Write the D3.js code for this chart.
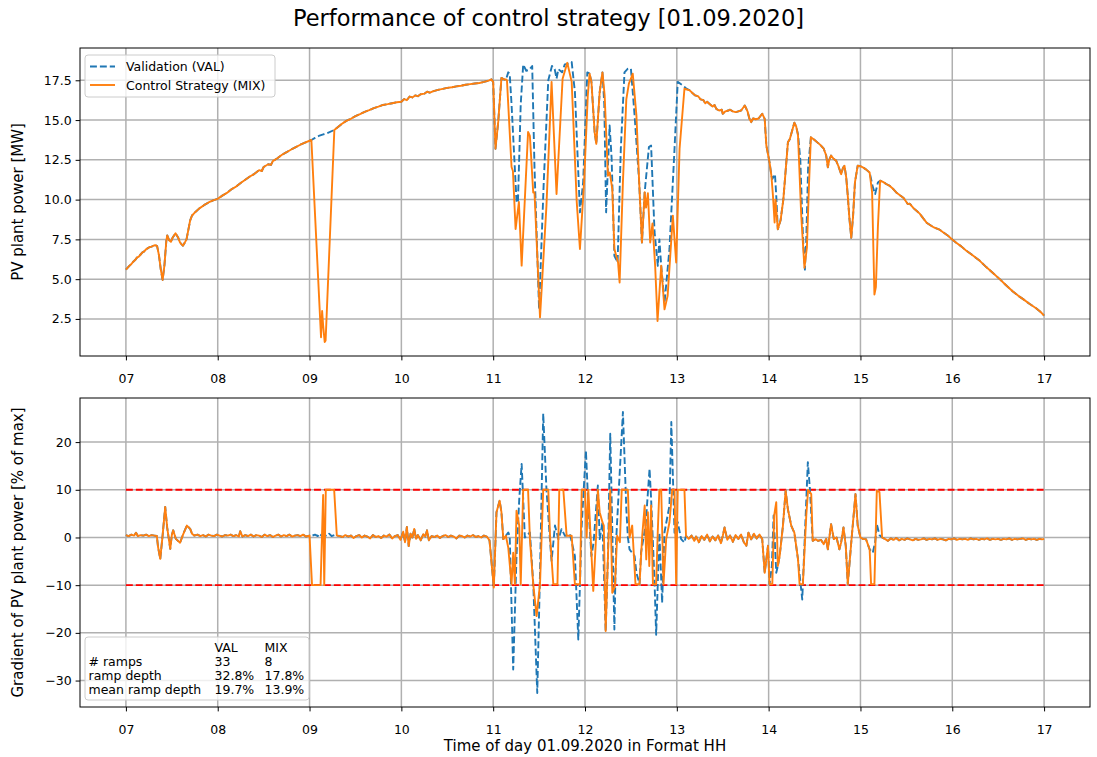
<!DOCTYPE html>
<html>
<head>
<meta charset="utf-8">
<script src="https://cdn.jsdelivr.net/npm/d3@7"></script>
<style>
  body { margin: 0; background: #fff; }
  svg { display: block; font-family: "DejaVu Sans", sans-serif; }
</style>
</head>
<body>
<svg id="chart" width="1097" height="757"></svg>
<script>
// ---- data (hour of day, value) ----
const hourTicks = [7, 8, 9, 10, 11, 12, 13, 14, 15, 16, 17];
const powerTicks = [2.5, 5, 7.5, 10, 12.5, 15, 17.5];
const gradientTicks = [-30, -20, -10, 0, 10, 20];
const rampLimits = [-10, 10];
const seriesNames = ["Validation (VAL)", "Control Strategy (MIX)"];
const tableHeader = ["", "VAL", "MIX"];
const tableRows = [
  ["# ramps", "33", "8"],
  ["ramp depth", "32.8%", "17.8%"],
  ["mean ramp depth", "19.7%", "13.9%"],
];

// PV plant power [MW]: parts shared by both series and parts where they differ
const powerCommon1 = [[7.00,5.60],[7.02,5.72],[7.04,5.85],[7.06,5.95],[7.08,6.10],[7.10,6.20],[7.12,6.35],[7.14,6.42],[7.16,6.55],[7.18,6.68],[7.20,6.75],[7.22,6.88],[7.24,6.95],[7.26,7.02],[7.28,7.05],[7.30,7.10],[7.32,7.14],[7.34,7.08],[7.36,6.50],[7.38,5.60],[7.40,4.95],[7.42,5.90],[7.44,7.40],[7.45,7.75],[7.47,7.45],[7.49,7.35],[7.51,7.62],[7.54,7.88],[7.57,7.60],[7.59,7.30],[7.62,7.10],[7.64,7.28],[7.66,7.50],[7.68,8.10],[7.70,8.70],[7.72,9.00],[7.76,9.24],[7.80,9.45],[7.85,9.65],[7.90,9.82],[7.95,9.95],[8.00,10.05],[8.05,10.25],[8.10,10.42],[8.15,10.65],[8.20,10.82],[8.25,11.05],[8.30,11.25],[8.35,11.45],[8.40,11.62],[8.45,11.85],[8.48,11.80],[8.50,12.05],[8.55,12.22],[8.58,12.18],[8.60,12.42],[8.65,12.60],[8.70,12.82],[8.75,12.98],[8.80,13.15],[8.85,13.30],[8.90,13.45],[8.95,13.58],[9.00,13.70],[9.02,13.75]];
const powerVal2 = [[9.02,13.75],[9.06,13.88],[9.10,14.00],[9.15,14.10],[9.20,14.20],[9.27,14.38]];
const powerMix2 = [[9.02,13.75],[9.125,1.35],[9.137,3.00],[9.148,2.10],[9.165,1.05],[9.175,1.15],[9.27,14.38]];
const powerCommon3 = [[9.27,14.38],[9.30,14.52],[9.35,14.75],[9.40,14.95],[9.45,15.08],[9.50,15.25],[9.55,15.38],[9.60,15.52],[9.65,15.62],[9.70,15.75],[9.75,15.84],[9.80,15.95],[9.85,16.00],[9.90,16.06],[9.95,16.12],[10.00,16.15],[10.03,16.32],[10.06,16.25],[10.09,16.48],[10.12,16.42],[10.15,16.55],[10.18,16.50],[10.21,16.62],[10.25,16.66],[10.28,16.78],[10.31,16.72],[10.35,16.82],[10.40,16.90],[10.45,16.96],[10.50,17.02],[10.55,17.06],[10.60,17.12],[10.65,17.16],[10.70,17.22],[10.75,17.26],[10.80,17.30],[10.85,17.33],[10.90,17.40],[10.95,17.48],[10.98,17.56],[11.00,17.40],[11.025,13.20],[11.055,14.90],[11.09,17.65],[11.12,17.55],[11.14,17.56]];
const powerVal4 = [[11.14,17.56],[11.164,18.00],[11.18,17.90],[11.20,16.00],[11.255,9.80],[11.27,9.90],[11.30,16.00],[11.327,18.49],[11.36,18.10],[11.39,18.15],[11.425,18.40],[11.45,12.00],[11.50,3.10],[11.55,11.00],[11.60,17.50],[11.64,18.40],[11.67,18.20],[11.69,17.60],[11.71,18.20],[11.75,18.00],[11.78,18.50],[11.82,18.55],[11.855,18.65],[11.88,17.30],[11.89,16.80],[11.945,9.20],[11.98,11.10],[12.025,18.00],[12.05,17.92],[12.07,17.40],[12.105,14.24],[12.123,13.50],[12.16,16.76],[12.19,18.00],[12.21,16.00],[12.23,9.20],[12.268,14.66],[12.29,12.60],[12.32,6.47],[12.355,6.05],[12.39,13.20],[12.43,18.00],[12.467,18.23],[12.50,18.23],[12.54,15.30],[12.59,11.10],[12.62,7.30],[12.65,10.46],[12.696,13.30],[12.72,13.40],[12.757,8.00],[12.793,5.84],[12.81,7.50],[12.83,5.84],[12.866,3.50],[12.92,6.90],[12.975,13.20],[13.01,17.40],[13.065,17.18],[13.10,17.00],[13.14,16.87]];
const powerMix4 = [[11.14,17.56],[11.15,17.50],[11.20,12.05],[11.215,11.80],[11.244,8.15],[11.28,9.85],[11.31,5.85],[11.38,14.25],[11.40,14.00],[11.436,10.45],[11.45,10.45],[11.51,2.60],[11.58,9.60],[11.636,17.40],[11.69,10.35],[11.756,17.60],[11.807,18.60],[11.855,17.40],[11.91,9.85],[11.945,6.90],[11.99,11.10],[12.03,16.50],[12.05,17.92],[12.07,17.40],[12.105,14.24],[12.123,13.50],[12.16,16.76],[12.19,18.00],[12.214,16.55],[12.25,11.50],[12.27,11.70],[12.297,10.67],[12.32,6.89],[12.36,6.05],[12.377,4.79],[12.413,11.09],[12.45,16.30],[12.478,17.29],[12.50,17.60],[12.52,17.92],[12.56,15.30],[12.59,11.10],[12.62,7.30],[12.65,10.46],[12.665,9.50],[12.685,10.40],[12.71,7.30],[12.735,8.50],[12.764,5.84],[12.79,2.37],[12.83,5.84],[12.866,3.10],[12.90,3.95],[12.957,8.99],[12.993,6.05],[13.03,13.20],[13.083,16.97],[13.14,16.87]];
const powerCommon5 = [[13.14,16.87],[13.17,16.70],[13.20,16.55],[13.23,16.50],[13.26,16.30],[13.29,16.25],[13.31,16.05],[13.33,16.15],[13.36,16.00],[13.39,15.85],[13.41,15.95],[13.43,15.70],[13.46,15.60],[13.49,15.65],[13.50,15.40],[13.53,15.55],[13.56,15.60],[13.58,15.65],[13.61,15.55],[13.64,15.50],[13.67,15.55],[13.70,15.60],[13.74,15.92],[13.77,15.55],[13.79,15.10],[13.81,14.87],[13.83,15.10],[13.86,15.05],[13.89,15.10],[13.93,15.40],[13.957,15.08],[13.975,13.40],[14.01,12.34],[14.03,11.50]];
const powerVal6 = [[14.03,11.50],[14.04,11.30],[14.069,11.60],[14.083,10.24],[14.10,8.14],[14.13,8.70],[14.16,10.00],[14.21,13.60],[14.23,13.80],[14.28,14.83],[14.30,14.60],[14.32,14.10],[14.345,12.50],[14.375,7.50],[14.395,5.60],[14.41,7.50],[14.43,12.00],[14.46,13.92]];
const powerMix6 = [[14.03,11.50],[14.047,10.24],[14.065,8.56],[14.075,10.00],[14.10,8.14],[14.13,8.70],[14.16,10.00],[14.21,13.60],[14.23,13.80],[14.28,14.83],[14.30,14.60],[14.32,14.03],[14.355,9.00],[14.39,5.72],[14.417,7.00],[14.44,11.00],[14.46,13.92]];
const powerCommon7 = [[14.46,13.92],[14.50,13.75],[14.54,13.55],[14.57,13.40],[14.60,13.20],[14.627,12.77],[14.645,12.03],[14.66,12.50],[14.68,12.77],[14.71,12.55],[14.735,12.45],[14.76,12.10],[14.79,11.60],[14.81,12.00],[14.826,12.13],[14.845,11.40],[14.862,10.24],[14.88,8.80],[14.90,7.60],[14.92,9.00],[14.94,11.08],[14.97,12.13],[15.00,12.10],[15.025,12.03],[15.06,11.90],[15.10,11.70]];
const powerVal8 = [[15.10,11.70],[15.134,10.80],[15.16,10.35],[15.19,11.08],[15.214,11.19]];
const powerMix8 = [[15.10,11.70],[15.127,10.45],[15.152,4.03],[15.168,4.50],[15.19,8.30],[15.214,11.19]];
const powerCommon9 = [[15.214,11.19],[15.25,11.10],[15.28,10.98],[15.32,10.86],[15.36,10.65],[15.39,10.45],[15.43,10.27],[15.47,10.10],[15.515,9.72],[15.536,9.75],[15.58,9.45],[15.62,9.25],[15.645,9.12],[15.68,8.85],[15.72,8.55],[15.754,8.42],[15.80,8.25],[15.862,8.11],[15.90,7.95],[15.95,7.75],[15.99,7.54],[16.04,7.30],[16.098,7.06],[16.15,6.80],[16.225,6.49],[16.30,6.15],[16.37,5.76],[16.44,5.40],[16.514,5.02],[16.58,4.65],[16.66,4.22],[16.72,3.95],[16.768,3.76],[16.84,3.45],[16.913,3.17],[16.96,2.95],[17.00,2.71]];

// Gradient of PV plant power [% of max]
const gradCommon1 = [[7.00,0.5],[7.03,0.3],[7.06,0.6],[7.09,0.4],[7.11,1.0],[7.13,0.3],[7.16,0.5],[7.19,0.4],[7.22,0.6],[7.25,0.3],[7.28,0.5],[7.31,0.4],[7.337,0.3],[7.35,-2.0],[7.374,-4.5],[7.40,0.5],[7.428,6.4],[7.45,2.0],[7.483,-2.4],[7.50,0.5],[7.515,1.5],[7.544,-0.3],[7.59,-1.1],[7.62,0.5],[7.664,2.5],[7.70,1.8],[7.72,0.8],[7.744,0.4],[7.78,0.6],[7.81,0.3],[7.84,0.5],[7.87,0.2],[7.90,0.6],[7.93,0.4],[7.96,0.3],[7.99,0.6],[8.02,0.4],[8.05,0.2],[8.08,0.5],[8.11,0.4],[8.14,0.6],[8.17,0.3],[8.20,0.5],[8.23,0.2],[8.245,1.3],[8.27,0.2],[8.30,0.5],[8.33,0.3],[8.36,0.6],[8.39,0.2],[8.42,0.5],[8.45,0.4],[8.48,0.1],[8.51,0.6],[8.54,0.3],[8.57,0.5],[8.60,0.1],[8.63,0.4],[8.66,0.6],[8.69,0.2],[8.72,0.5],[8.75,0.3],[8.78,0.6],[8.81,0.2],[8.84,0.4],[8.87,0.5],[8.90,0.3],[8.93,0.6],[8.96,0.2],[9.00,0.4]];
const gradVal2 = [[9.00,0.4],[9.03,0.4],[9.06,0.6],[9.09,0.3],[9.105,0.8],[9.13,0.4],[9.16,0.5],[9.19,0.3],[9.213,0.8],[9.24,0.3],[9.27,0.5],[9.297,0.4]];
const gradMix2 = [[9.00,0.4],[9.027,-10],[9.12,-10],[9.148,8.9],[9.16,-10],[9.177,10],[9.268,10],[9.297,0.4]];
const gradCommon3 = [[9.297,0.4],[9.33,0.3],[9.36,0.1],[9.39,0.5],[9.42,0.2],[9.45,0.4],[9.48,-0.1],[9.51,0.3],[9.54,0.5],[9.57,0.0],[9.60,0.4],[9.63,0.2],[9.66,-0.2],[9.69,0.5],[9.72,0.1],[9.75,0.3],[9.78,-0.1],[9.81,0.4],[9.84,0.2],[9.87,0.6],[9.90,-0.2],[9.93,0.3],[9.96,0.5],[9.99,-0.5],[10.02,1.2],[10.04,-1.0],[10.06,2.2],[10.08,-1.8],[10.10,0.8],[10.12,0.0],[10.14,1.8],[10.16,-0.3],[10.18,0.5],[10.21,-0.6],[10.24,0.7],[10.26,0.2],[10.28,1.5],[10.30,-0.6],[10.33,0.3],[10.36,0.1],[10.39,0.4],[10.42,-0.1],[10.45,0.3],[10.48,0.5],[10.51,0.1],[10.54,0.4],[10.57,0.2],[10.60,-0.2],[10.63,0.4],[10.66,0.3],[10.69,0.0],[10.72,0.4],[10.75,0.2],[10.78,0.5],[10.81,0.1],[10.84,0.3],[10.87,0.0],[10.90,0.4],[10.93,0.2],[10.96,-0.6],[11.007,-10.5],[11.036,5.3],[11.07,7.7],[11.09,5.3],[11.11,-0.35],[11.138,0.35]];
const gradVal4 = [[11.138,0.35],[11.164,1.05],[11.18,0.35],[11.218,-27.7],[11.254,-3.9],[11.284,8.1],[11.31,15.4],[11.345,0.0],[11.40,1.05],[11.436,-9.5],[11.48,-32.6],[11.51,-7.4],[11.545,26.0],[11.58,10.2],[11.62,-1.0],[11.636,-4.9],[11.673,2.5],[11.71,-0.35],[11.745,1.75],[11.782,0.35],[11.836,0.7],[11.89,-3.9],[11.927,-21.4],[11.964,2.5],[12.01,18.2],[12.036,6.7],[12.07,-3.9],[12.094,-1.0],[12.14,10.9],[12.16,-0.35],[12.19,3.2],[12.225,-19.6],[12.25,-3.9],[12.275,21.75],[12.32,-19.3],[12.34,-0.35],[12.413,26.3],[12.45,6.0],[12.467,0.0],[12.485,-2.5],[12.54,-3.9],[12.56,-7.4],[12.594,-9.8],[12.61,-3.2],[12.66,2.5],[12.703,14.4],[12.72,8.1],[12.757,-9.1],[12.775,-20.4],[12.81,1.0],[12.84,-13.7],[12.865,1.0],[12.92,6.7],[12.94,24.2],[12.975,1.0],[13.01,3.2],[13.047,-0.35],[13.083,-1.05],[13.10,0.35]];
const gradMix4 = [[11.138,0.35],[11.164,-2.1],[11.20,-9.8],[11.218,-3.2],[11.236,-9.8],[11.254,5.6],[11.284,2.5],[11.30,-9.8],[11.327,10],[11.38,10],[11.40,-0.35],[11.436,-9.8],[11.473,-16.5],[11.51,-9.8],[11.545,10],[11.60,10],[11.62,0.0],[11.655,-9.8],[11.70,-9.8],[11.72,10],[11.764,10],[11.80,0.35],[11.855,0.35],[11.89,-9.8],[11.945,-9.8],[11.964,10],[12.00,10],[12.018,0.0],[12.036,10],[12.09,-11.2],[12.123,1.0],[12.14,10],[12.16,5.3],[12.19,3.2],[12.205,2.5],[12.225,-19.6],[12.25,-3.9],[12.275,10],[12.297,-11.6],[12.326,-10.2],[12.35,0.35],[12.38,-1.0],[12.40,10],[12.467,10],[12.485,0.0],[12.514,2.5],[12.55,-9.8],[12.594,-9.8],[12.623,0.35],[12.65,6.7],[12.667,-4.6],[12.685,5.3],[12.70,-6.0],[12.72,6.7],[12.74,-9.8],[12.775,-9.8],[12.792,1.0],[12.81,10],[12.83,10],[12.855,-9.8],[12.884,-0.35],[12.92,3.2],[12.95,10],[12.975,10],[12.993,-9.8],[13.01,10],[13.083,10],[13.10,0.35]];
const gradCommon5 = [[13.10,0.35],[13.13,-0.3],[13.16,0.4],[13.19,-0.7],[13.21,0.2],[13.24,-1.0],[13.27,0.3],[13.30,-0.5],[13.33,0.6],[13.36,-0.8],[13.39,0.2],[13.42,-0.6],[13.45,0.4],[13.48,-1.2],[13.50,0.3],[13.52,2.1],[13.55,-0.5],[13.58,0.4],[13.61,-0.9],[13.64,0.5],[13.67,-0.3],[13.70,0.6],[13.73,-1.0],[13.757,-1.75],[13.78,1.0],[13.81,-0.4],[13.84,0.8],[13.87,-0.2],[13.90,0.6],[13.93,-0.3],[13.957,-7.4],[13.993,-1.75],[14.01,-9.8]];
const gradVal6 = [[14.01,-9.8],[14.035,-6.0],[14.054,4.6],[14.083,-7.4],[14.10,-6.0],[14.12,-3.9],[14.156,2.5],[14.185,9.8],[14.21,5.9],[14.246,2.5],[14.28,1.0],[14.32,-4.6],[14.366,-13.0],[14.427,15.8],[14.45,10],[14.48,-0.7]];
const gradMix6 = [[14.01,-9.8],[14.04,-9.8],[14.06,4.6],[14.083,7.4],[14.10,-6.0],[14.12,-3.9],[14.156,2.5],[14.185,9.8],[14.21,5.9],[14.246,2.5],[14.28,1.0],[14.32,-4.6],[14.337,-9.8],[14.373,-9.8],[14.41,4.6],[14.43,10],[14.464,9.1],[14.48,-0.7]];
const gradCommon7 = [[14.48,-0.7],[14.51,-0.35],[14.54,-0.7],[14.57,-0.5],[14.60,-1.4],[14.627,-0.3],[14.645,-2.5],[14.68,2.8],[14.71,-0.35],[14.74,0.0],[14.77,-2.5],[14.79,-1.0],[14.815,2.1],[14.84,-1.75],[14.862,-9.8],[14.90,-1.0],[14.946,9.1],[14.97,2.5],[15.00,0.0],[15.03,-0.35],[15.06,-0.35],[15.10,-2.5]];
const gradVal8 = [[15.10,-2.5],[15.134,-3.2],[15.16,-1.0],[15.178,2.8],[15.207,0.5],[15.236,0.0]];
const gradMix8 = [[15.10,-2.5],[15.116,-9.8],[15.152,-9.8],[15.178,9.8],[15.207,9.5],[15.236,0.0]];
const gradCommon9 = [[15.236,0.0],[15.27,-0.35],[15.30,-0.7],[15.33,-0.2],[15.36,-0.5],[15.39,-0.1],[15.42,-0.6],[15.45,-0.3],[15.48,-0.5],[15.51,-0.2],[15.54,-0.4],[15.57,-0.6],[15.60,-0.3],[15.63,-0.5],[15.66,-0.4],[15.69,-0.2],[15.72,-0.5],[15.75,-0.3],[15.78,-0.4],[15.81,-0.2],[15.84,-0.5],[15.87,-0.3],[15.90,-0.4],[15.93,-0.6],[15.96,-0.3],[15.99,-0.4],[16.02,-0.2],[16.05,-0.5],[16.08,-0.3],[16.11,-0.4],[16.14,-0.3],[16.17,-0.5],[16.20,-0.2],[16.23,-0.4],[16.26,-0.3],[16.29,-0.5],[16.32,-0.3],[16.35,-0.4],[16.38,-0.2],[16.41,-0.5],[16.44,-0.3],[16.47,-0.4],[16.50,-0.3],[16.53,-0.5],[16.56,-0.3],[16.59,-0.4],[16.62,-0.2],[16.65,-0.5],[16.68,-0.3],[16.71,-0.4],[16.74,-0.3],[16.77,-0.2],[16.80,-0.5],[16.83,-0.3],[16.86,-0.4],[16.89,-0.3],[16.92,-0.5],[16.95,-0.3],[16.98,-0.4],[17.00,-0.3]];

const powerVal = [].concat(powerCommon1, powerVal2, powerCommon3, powerVal4, powerCommon5, powerVal6, powerCommon7, powerVal8, powerCommon9);
const powerMix = [].concat(powerCommon1, powerMix2, powerCommon3, powerMix4, powerCommon5, powerMix6, powerCommon7, powerMix8, powerCommon9);
const gradVal = [].concat(gradCommon1, gradVal2, gradCommon3, gradVal4, gradCommon5, gradVal6, gradCommon7, gradVal8, gradCommon9);
const gradMix = [].concat(gradCommon1, gradMix2, gradCommon3, gradMix4, gradCommon5, gradMix6, gradCommon7, gradMix8, gradCommon9);

// ---- layout ----
const colors = { val: "#1f77b4", mix: "#ff7f0e", grid: "#b0b0b0", limit: "#ff0000" };
const left = 80, right = 1090;
const topBox = { y0: 48, y1: 356 };
const bottomBox = { y0: 398, y1: 707 };
const tickFont = 12.5;

const svg = d3.select("#chart");

function padded(extent) {
  const m = (extent[1] - extent[0]) * 0.05;
  return [extent[0] - m, extent[1] + m];
}

const x = d3.scaleLinear().domain(padded(d3.extent(powerMix, (d) => d[0]))).range([left, right]);
const yPower = d3
  .scaleLinear()
  .domain(padded(d3.extent(powerVal.concat(powerMix), (d) => d[1])))
  .range([topBox.y1, topBox.y0]);
const yGrad = d3
  .scaleLinear()
  .domain(padded(d3.extent(gradVal.concat(gradMix), (d) => d[1])))
  .range([bottomBox.y1, bottomBox.y0]);

function drawPanel(box, y, yTicks, yFormat, valData, mixData, limits) {
  const g = svg.append("g");

  // grid
  g.append("g")
    .selectAll("line")
    .data(hourTicks)
    .join("line")
    .attr("x1", (d) => x(d))
    .attr("x2", (d) => x(d))
    .attr("y1", box.y0)
    .attr("y2", box.y1)
    .attr("stroke", colors.grid)
    .attr("stroke-width", 1.5);
  g.append("g")
    .selectAll("line")
    .data(yTicks)
    .join("line")
    .attr("x1", left)
    .attr("x2", right)
    .attr("y1", (d) => y(d))
    .attr("y2", (d) => y(d))
    .attr("stroke", colors.grid)
    .attr("stroke-width", 1.5);

  if (limits) {
    g.append("g")
      .selectAll("line")
      .data(limits)
      .join("line")
      .attr("x1", x(hourTicks[0]))
      .attr("x2", x(hourTicks[hourTicks.length - 1]))
      .attr("y1", (d) => y(d))
      .attr("y2", (d) => y(d))
      .attr("stroke", colors.limit)
      .attr("stroke-width", 1.9)
      .attr("stroke-dasharray", "6.9,3");
  }

  const line = d3.line().x((d) => x(d[0])).y((d) => y(d[1]));

  g.append("path")
    .datum(valData)
    .attr("d", line)
    .attr("fill", "none")
    .attr("stroke", colors.val)
    .attr("stroke-width", 1.9)
    .attr("stroke-dasharray", "6.9,3")
    .attr("stroke-linejoin", "round");

  g.append("path")
    .datum(mixData)
    .attr("d", line)
    .attr("fill", "none")
    .attr("stroke", colors.mix)
    .attr("stroke-width", 1.9)
    .attr("stroke-linejoin", "round");

  // axes
  const xAxis = d3
    .axisBottom(x)
    .tickValues(hourTicks)
    .tickFormat((d) => String(d).padStart(2, "0"))
    .tickSize(4.4)
    .tickPadding(14);
  const yAxis = d3.axisLeft(y).tickValues(yTicks).tickFormat(yFormat).tickSize(4.4).tickPadding(4);

  const gx = g.append("g").attr("transform", `translate(0,${box.y1})`).call(xAxis);
  const gy = g.append("g").attr("transform", `translate(${left},0)`).call(yAxis);
  [gx, gy].forEach((a) => {
    a.select(".domain").remove();
    a.selectAll("line").attr("stroke", "#000").attr("stroke-width", 1);
    a.selectAll("text")
      .attr("fill", "#000")
      .style("font-family", "DejaVu Sans")
      .style("font-size", tickFont + "px");
  });

  g.append("rect")
    .attr("x", left)
    .attr("y", box.y0)
    .attr("width", right - left)
    .attr("height", box.y1 - box.y0)
    .attr("fill", "none")
    .attr("stroke", "#000")
    .attr("stroke-width", 1);

  return g;
}

const topPanel = drawPanel(topBox, yPower, powerTicks, d3.format(".1f"), powerVal, powerMix, null);
const bottomPanel = drawPanel(bottomBox, yGrad, gradientTicks, d3.format("d"), gradVal, gradMix, rampLimits);

// title and labels
svg.append("text")
  .attr("x", 548.5)
  .attr("y", 26)
  .attr("text-anchor", "middle")
  .style("font-size", "22.5px")
  .text("Performance of control strategy [01.09.2020]");

svg.append("text")
  .attr("transform", `translate(23,${(topBox.y0 + topBox.y1) / 2}) rotate(-90)`)
  .attr("text-anchor", "middle")
  .style("font-size", "15px")
  .text("PV plant power [MW]");

svg.append("text")
  .attr("transform", `translate(23,${(bottomBox.y0 + bottomBox.y1) / 2}) rotate(-90)`)
  .attr("text-anchor", "middle")
  .style("font-size", "15px")
  .text("Gradient of PV plant power [% of max]");

svg.append("text")
  .attr("x", (left + right) / 2)
  .attr("y", 751)
  .attr("text-anchor", "middle")
  .style("font-size", "15px")
  .text("Time of day 01.09.2020 in Format HH");

// legend
const legend = svg.append("g");
legend.append("rect")
  .attr("x", 85)
  .attr("y", 55)
  .attr("width", 190)
  .attr("height", 42)
  .attr("rx", 3)
  .attr("fill", "#fff")
  .attr("fill-opacity", 0.8)
  .attr("stroke", "#cccccc");
[
  { name: seriesNames[0], color: colors.val, dash: "6.9,3", cy: 66.5 },
  { name: seriesNames[1], color: colors.mix, dash: null, cy: 85 },
].forEach((item) => {
  legend.append("line")
    .attr("x1", 90)
    .attr("x2", 115)
    .attr("y1", item.cy)
    .attr("y2", item.cy)
    .attr("stroke", item.color)
    .attr("stroke-width", 1.9)
    .attr("stroke-dasharray", item.dash);
  legend.append("text")
    .attr("x", 126)
    .attr("y", item.cy + 4.5)
    .style("font-size", "12.5px")
    .text(item.name);
});

// ramp statistics box
const stats = svg.append("g");
stats.append("rect")
  .attr("x", 85)
  .attr("y", 637)
  .attr("width", 224)
  .attr("height", 63)
  .attr("rx", 3)
  .attr("fill", "#fff")
  .attr("fill-opacity", 0.8)
  .attr("stroke", "#cccccc");
const colX = [88.5, 214.5, 264.5];
[tableHeader].concat(tableRows).forEach((row, i) => {
  row.forEach((cell, j) => {
    stats.append("text")
      .attr("x", colX[j])
      .attr("y", 651.7 + i * 14.1)
      .style("font-size", "12.5px")
      .text(cell);
  });
});
</script>
</body>
</html>
